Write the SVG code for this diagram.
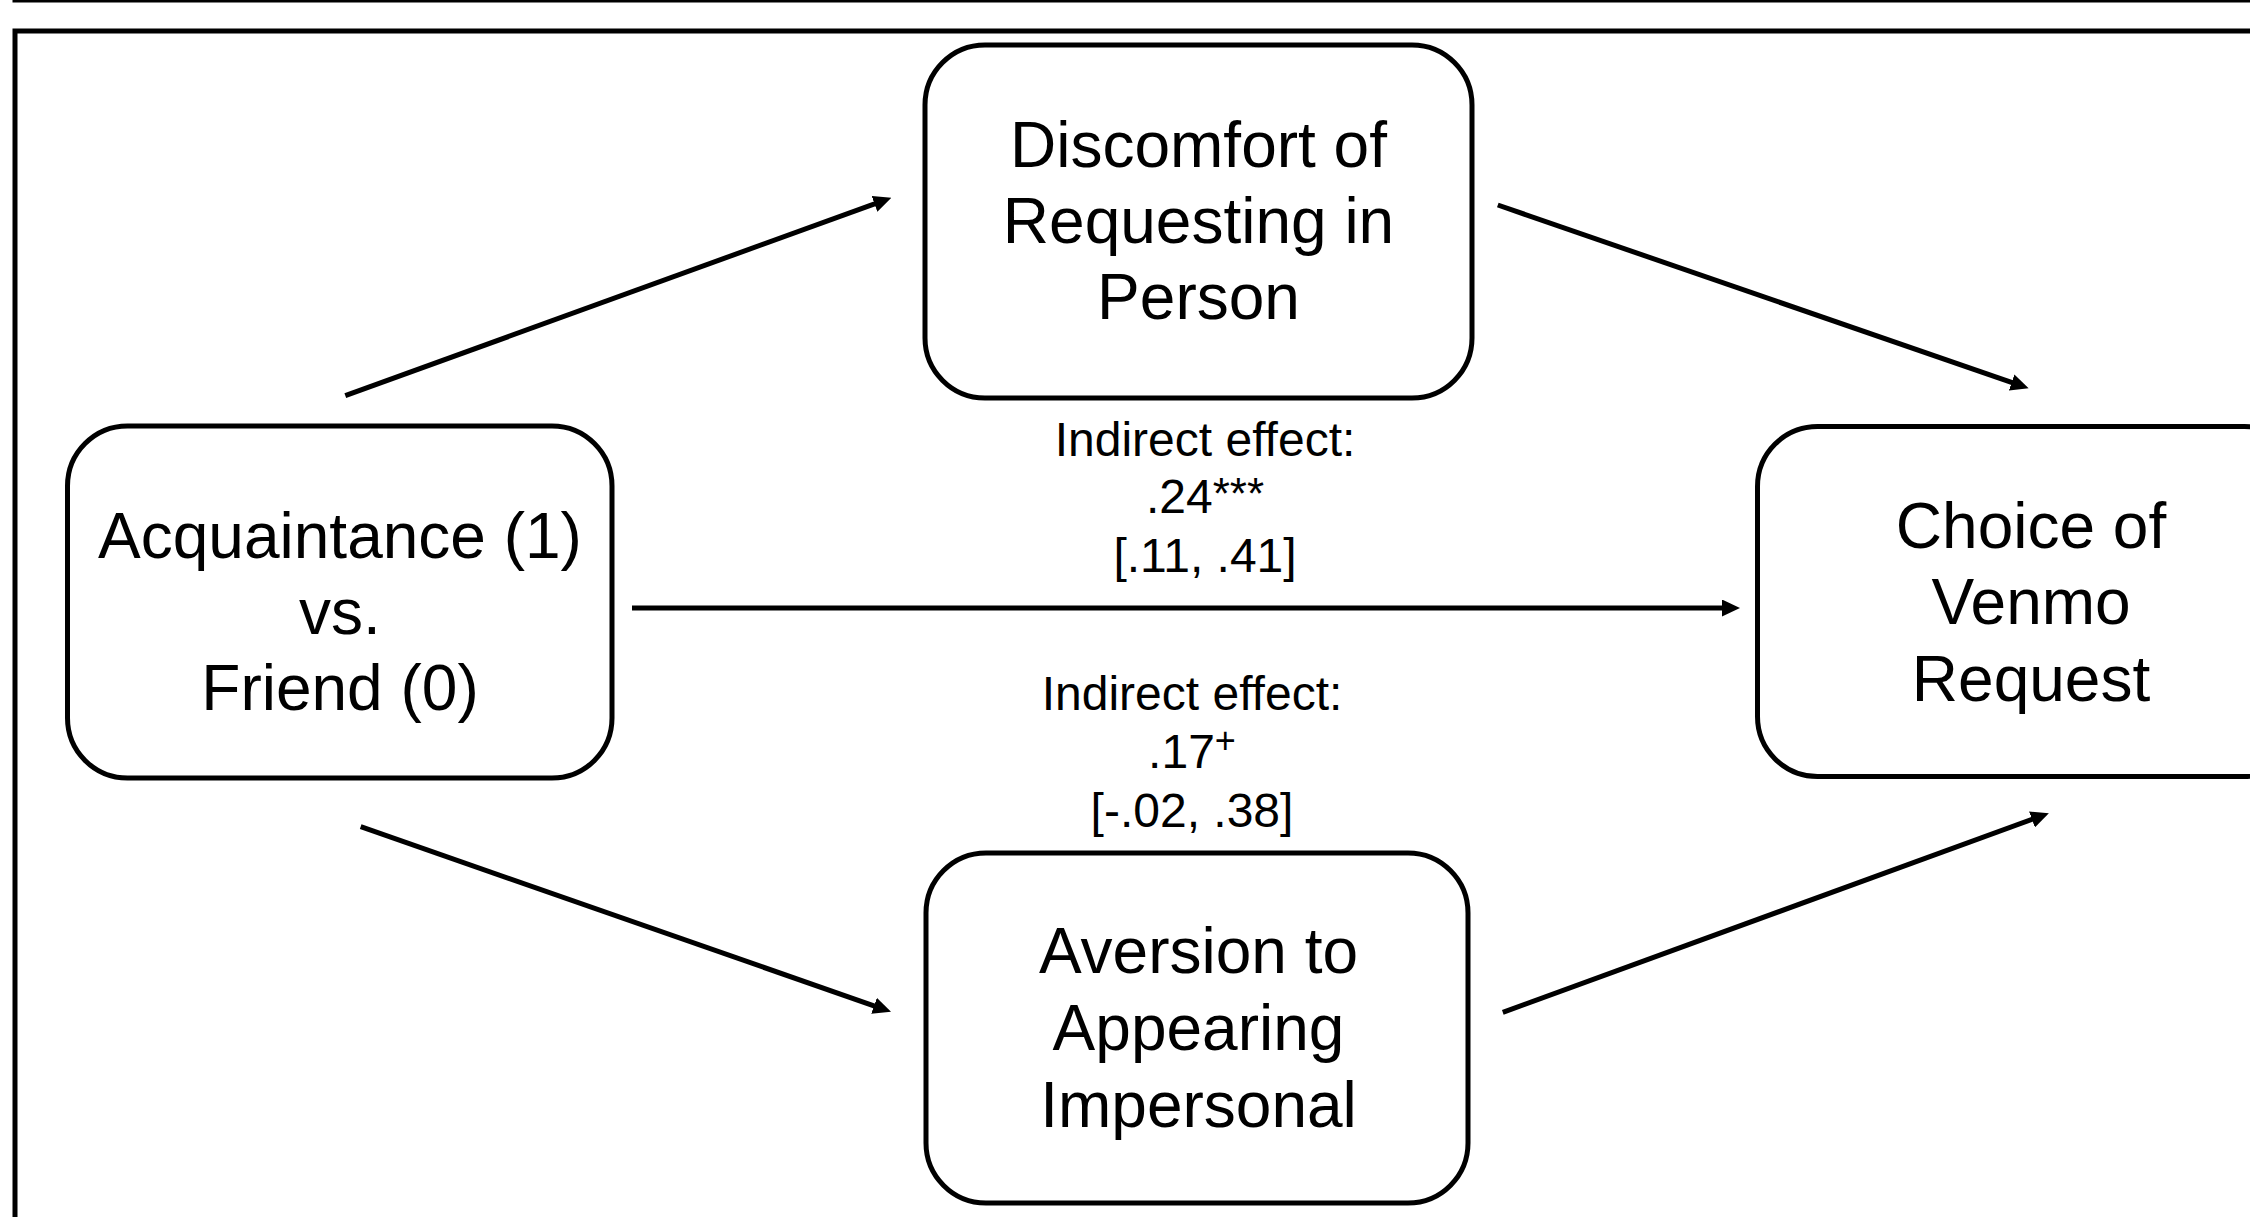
<svg xmlns="http://www.w3.org/2000/svg" width="2250" height="1217" viewBox="0 0 2250 1217">
<style>
.frame{fill:none;stroke:#000;stroke-width:5}
.box{fill:#fff;stroke:#000;stroke-width:5}
.node{font-family:"Liberation Sans",Arial,sans-serif;font-size:64px;fill:#000;text-anchor:middle}
.lbl{font-family:"Liberation Sans",Arial,sans-serif;font-size:48px;fill:#000;text-anchor:middle}
.conn{stroke:#000;stroke-width:5;fill:none;marker-end:url(#ah)}
</style>
<defs>
<marker id="ah" markerUnits="userSpaceOnUse" viewBox="0 0 18 17" markerWidth="18" markerHeight="17" refX="6" refY="8.5" orient="auto">
<path d="M0,0 L18,8.5 L0,17 z" fill="#000"/>
</marker>
</defs>
<rect width="2250" height="1217" fill="#fff"/>
<rect class="frame" x="15" y="-400" width="2300" height="400"/>
<rect class="frame" x="15" y="31" width="2300" height="1300"/>

<g id="connectors">
<line class="conn" x1="345.3" y1="395.7" x2="880.1" y2="201.8"/>
<line class="conn" x1="1497.8" y1="205" x2="2017.3" y2="384.4"/>
<line class="conn" x1="632" y1="608" x2="1728" y2="608"/>
<line class="conn" x1="360.7" y1="826.7" x2="879.7" y2="1007.8"/>
<line class="conn" x1="1502.8" y1="1012.3" x2="2037.6" y2="817.4"/>
</g>

<g id="node-acquaintance">
<rect class="box" x="67.5" y="426" width="544.5" height="352" rx="60" ry="60"/>
<text class="node" x="340" y="558">Acquaintance (1)</text>
<text class="node" x="340" y="634">vs.</text>
<text class="node" x="340" y="710">Friend (0)</text>
</g>

<g id="node-discomfort">
<rect class="box" x="925" y="45" width="547" height="353" rx="60" ry="60"/>
<text class="node" x="1198.5" y="167">Discomfort of</text>
<text class="node" x="1198.5" y="243">Requesting in</text>
<text class="node" x="1198.5" y="319">Person</text>
</g>

<g id="node-choice">
<rect class="box" x="1757.5" y="426.5" width="547" height="350" rx="60" ry="60"/>
<text class="node" x="2031" y="548">Choice of</text>
<text class="node" x="2031" y="624">Venmo</text>
<text class="node" x="2031" y="701">Request</text>
</g>

<g id="node-aversion">
<rect class="box" x="926" y="853" width="542" height="350" rx="60" ry="60"/>
<text class="node" x="1198.5" y="973">Aversion to</text>
<text class="node" x="1198.5" y="1050">Appearing</text>
<text class="node" x="1198.5" y="1127">Impersonal</text>
</g>

<g id="label-indirect-1">
<text class="lbl" x="1205" y="456">Indirect effect:</text>
<text class="lbl" x="1205" y="513">.24<tspan font-size="44" dy="-4">***</tspan></text>
<text class="lbl" x="1205" y="572">[.11, .41]</text>
</g>

<g id="label-indirect-2">
<text class="lbl" x="1192" y="710">Indirect effect:</text>
<text class="lbl" x="1192" y="768">.17<tspan font-size="36" dy="-15">+</tspan></text>
<text class="lbl" x="1192" y="827">[-.02, .38]</text>
</g>
</svg>
